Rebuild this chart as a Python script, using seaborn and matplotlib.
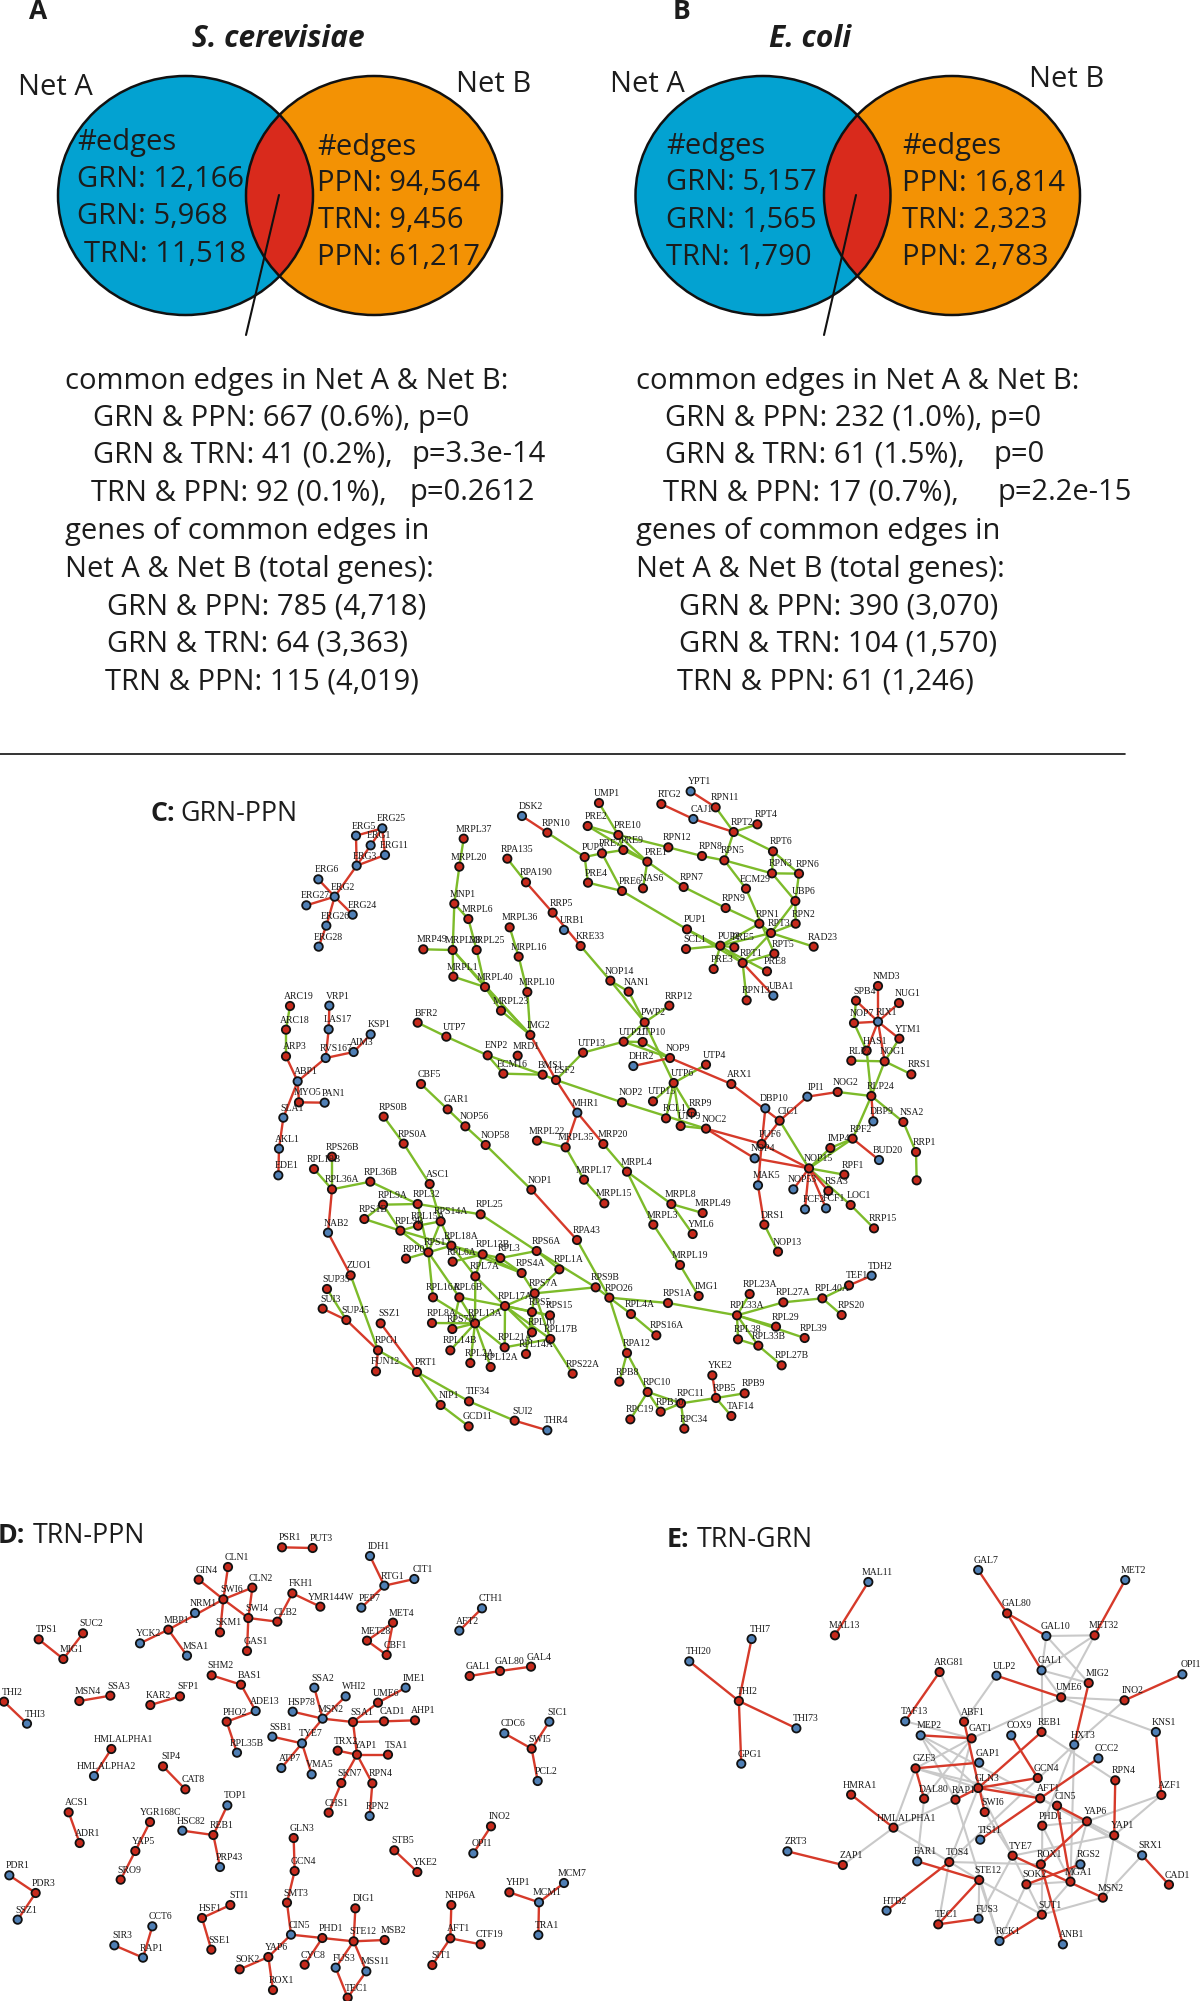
import pandas as pd
import matplotlib
matplotlib.use('Agg')
import matplotlib.pyplot as plt
from matplotlib.patches import Ellipse
import seaborn as sns

# --- venn text -------------------------------------------------------------
a_left = ['#edges', 'GRN: 12,166', 'GRN: 5,968', 'TRN: 11,518']
a_right = ['#edges', 'PPN: 94,564', 'TRN: 9,456', 'PPN: 61,217']
b_left = ['#edges', 'GRN: 5,157', 'GRN: 1,565', 'TRN: 1,790']
b_right = ['#edges', 'PPN: 16,814', 'TRN: 2,323', 'PPN: 2,783']

a_lines = ['common edges in Net A & Net B:', 'GRN & PPN: 667 (0.6%), p=0', 'GRN & TRN: 41 (0.2%),',
           'TRN & PPN: 92 (0.1%),', 'genes of common edges in', 'Net A & Net B (total genes):',
           'GRN & PPN: 785 (4,718)', 'GRN & TRN: 64 (3,363)', 'TRN & PPN: 115 (4,019)']
b_lines = ['common edges in Net A & Net B:', 'GRN & PPN: 232 (1.0%), p=0', 'GRN & TRN: 61 (1.5%),',
           'TRN & PPN: 17 (0.7%),', 'genes of common edges in', 'Net A & Net B (total genes):',
           'GRN & PPN: 390 (3,070)', 'GRN & TRN: 104 (1,570)', 'TRN & PPN: 61 (1,246)']
a_pvals = ['p=3.3e-14', 'p=0.2612']
b_pvals = ['p=0', 'p=2.2e-15']

# --- node tables (name, x, y in 3x crop pixels) --------
c_nodes_1 = [('ERG25', 367, 205), ('ERG5', 288, 227), ('ERG1', 332, 256), ('ERG11', 375, 285), ('ERG3', 290, 317),
             ('ERG6', 175, 358), ('ERG2', 224, 410), ('ERG27', 139, 436), ('ERG24', 278, 464), ('ERG26', 199, 497),
             ('ERG28', 176, 560), ('MRPL37', 611, 236), ('MRPL20', 598, 320), ('MNP1', 583, 431), ('MRPL6', 625, 477),
             ('MRP49', 490, 568), ('MRPL38', 578, 570), ('MRPL25', 650, 570), ('MRPL1', 580, 650), ('MRPL40', 675, 681),
             ('MRPL36', 749, 502), ('MRPL16', 776, 590), ('MRPL10', 802, 696), ('MRPL23', 723, 752), ('IMG2', 811, 825),
             ('DSK2', 786, 168), ('RPN10', 862, 218), ('RPA135', 742, 296), ('RPA190', 798, 367), ('RRP5', 878, 458),
             ('URB1', 912, 510), ('KRE33', 962, 558), ('UMP1', 1017, 129), ('PRE2', 983, 198), ('PRE10', 1075, 225),
             ('PUP3', 974, 291), ('PRE7', 1026, 280), ('PRE9', 1090, 270), ('PRE4', 984, 368), ('PRE6', 1086, 393),
             ('NAS6', 1149, 385), ('ARC19', 90, 738), ('VRP1', 208, 737), ('ARC18', 78, 809), ('LAS17', 206, 808),
             ('KSP1', 332, 823), ('ARP3', 78, 889), ('RVS167', 197, 894), ('AIM3', 281, 876), ('ABP1', 113, 964),
             ('MYO5', 117, 1027), ('PAN1', 194, 1028), ('SLA1', 70, 1073), ('RPS0B', 371, 1070), ('BFR2', 473, 788),
             ('UTP7', 559, 830), ('ENP2', 683, 886), ('MRD1', 773, 887), ('ECM16', 730, 941), ('BMS1', 848, 944),
             ('ESF2', 888, 960), ('UTP13', 969, 878), ('UTP21', 1091, 845), ('DHR2', 1120, 918), ('NOP14', 1051, 662),
             ('NAN1', 1106, 695), ('MHR1', 952, 1058), ('NOP2', 1086, 1027), ('CBF5', 483, 972), ('GAR1', 563, 1048),
             ('NOP56', 616, 1099)]
c_nodes_2 = [('YPT1', 152, 94), ('RTG2', 64, 132), ('RPN11', 227, 142), ('CAJ1', 160, 177), ('RPT2', 281, 216),
             ('RPT4', 352, 193), ('RPT6', 399, 274), ('RPN5', 253, 301), ('RPN12', 85, 262), ('RPN8', 186, 288),
             ('PRE1', 22, 305), ('RPN3', 396, 340), ('RPN6', 477, 341), ('ECM29', 318, 386), ('UBP6', 466, 423),
             ('RPN7', 131, 381), ('RPN9', 257, 444), ('RPN1', 358, 491), ('RPN2', 467, 491), ('RPT3', 393, 519),
             ('RAD23', 521, 560), ('PUP1', 141, 508), ('SCL1', 138, 567), ('PUP2', 241, 557), ('PRE5', 283, 562),
             ('RPT5', 403, 581), ('RPT1', 308, 609), ('PRE3', 221, 627), ('PRE8', 381, 634), ('RPN13', 320, 721),
             ('UBA1', 400, 707), ('NMD3', 714, 678), ('SPB4', 648, 722), ('NUG1', 777, 729), ('NOP7', 642, 789),
             ('RIX1', 714, 785), ('YTM1', 778, 836), ('HAS1', 680, 872), ('RLP7', 634, 902), ('NOG1', 734, 904),
             ('RRS1', 814, 943), ('NOG2', 593, 996), ('IPI1', 502, 1010), ('RLP24', 694, 1008), ('DBP10', 376, 1045),
             ('CIC1', 419, 1082), ('DBP9', 700, 1084), ('NSA2', 790, 1086), ('RPF2', 638, 1136), ('IMP4', 571, 1164),
             ('RRP1', 828, 1176), ('PUF6', 365, 1152), ('NOC2', 198, 1106), ('ARX1', 274, 972), ('NOP9', 90, 894),
             ('UTP4', 198, 914), ('UTP6', 101, 969), ('UTP15', 39, 1024), ('RCL1', 78, 1075), ('UTP9', 122, 1098),
             ('RRP9', 155, 1058), ('RRP12', 88, 737), ('PWP2', 14, 787), ('UTP10', 8, 846), ('BUD20', 717, 1200)]
c_nodes_3 = [('AKL1', 57, 86), ('EDE1', 55, 166), ('RPS26B', 216, 110), ('RPL19B', 162, 147), ('RPL36A', 216, 208),
             ('RPL36B', 331, 185), ('ASC1', 509, 192), ('RPS0A', 431, 71), ('NOP58', 677, 75), ('NOP1', 814, 209),
             ('RPA43', 951, 360), ('MRPL22', 831, 62), ('MRPL35', 917, 82), ('MRP20', 1030, 72), ('MRPL17', 972, 179),
             ('MRPL15', 1033, 250), ('MRPL4', 1101, 155), ('MRPL8', 1234, 252), ('MRPL49', 1328, 279), ('YML6', 1298, 342),
             ('MRPL3', 1180, 314), ('MRPL19', 1260, 435), ('IMG1', 1316, 528), ('NAB2', 204, 338), ('RPL9A', 369, 254),
             ('RPL32', 473, 252), ('RPS1B', 313, 297), ('RPL25', 662, 283), ('RPL15A', 474, 317), ('RPL9B', 421, 332),
             ('RPS14A', 542, 304), ('RPL18A', 574, 377), ('RPS17', 505, 397), ('RPP0', 438, 416), ('RPL6A', 578, 425),
             ('RPL13B', 668, 403), ('RPL3', 721, 414), ('RPS6A', 830, 393), ('RPL1A', 898, 448), ('RPS4A', 785, 459),
             ('RPL7A', 646, 469), ('ZUO1', 272, 466), ('SUP35', 201, 507), ('SUI3', 188, 566), ('SUP45', 259, 600),
             ('SSZ1', 362, 610), ('RPL16A', 519, 532), ('RPL6B', 598, 532), ('RPS7A', 824, 520), ('RPS9B', 1007, 502),
             ('RPO26', 1048, 533), ('RPS1A', 1224, 549), ('RPL17A', 735, 558), ('RPS5', 816, 576), ('RPS15', 870, 586),
             ('RPL4A', 1113, 582), ('RPS16A', 1189, 646), ('RPL8A', 516, 609), ('RPS7B', 577, 627), ('RPL13A', 645, 610),
             ('RPL10', 816, 637), ('RPL17B', 871, 657), ('RPL21A', 734, 682), ('RPL14A', 798, 702), ('RPL14B', 571, 691),
             ('RPL2A', 631, 729), ('RPL12A', 692, 741), ('RPS22A', 938, 761), ('RPA12', 1101, 699), ('RPG1', 354, 691),
             ('FUN12', 348, 754), ('PRT1', 471, 756), ('RPB8', 1078, 785), ('RPC19', 1111, 898), ('NIP1', 542, 855),
             ('TIF34', 627, 844), ('GCD11', 626, 919), ('SUI2', 764, 902), ('THR4', 862, 931)]
c_nodes_4 = [('NOP4', 344, 55), ('NOP15', 507, 85), ('MAK5', 354, 136), ('NOP53', 460, 148), ('RPF1', 613, 104),
             ('RSA3', 565, 153), ('FCF2', 495, 208), ('FCF1', 558, 205), ('LOC1', 632, 195), ('RRP15', 702, 265),
             ('DRS1', 373, 254), ('NOP13', 414, 335), ('TDH2', 695, 407), ('TEF1', 627, 436), ('RPL40A', 547, 475),
             ('RPL27A', 430, 487), ('RPL23A', 329, 462), ('RPL33A', 291, 526), ('RPS20', 605, 525), ('RPL29', 408, 560),
             ('RPL39', 494, 594), ('RPL38', 294, 598), ('RPL33B', 355, 617), ('RPL27B', 425, 676), ('YKE2', 217, 706),
             ('RPB5', 228, 774), ('RPB9', 314, 760), ('TAF14', 274, 828), ('RPC11', 123, 790), ('RPB10', 62, 815),
             ('RPC34', 133, 866), ('RPC10', 23, 756)]
c_nolabel = [('RRP1B', 830, 121)]

c_blue = ['ERG25', 'ERG5', 'ERG1', 'ERG11', 'ERG3', 'ERG6', 'ERG2', 'ERG27', 'ERG24', 'ERG26', 'ERG28', 'DSK2', 'URB1',
          'VRP1', 'LAS17', 'KSP1', 'RVS167', 'AIM3', 'ABP1', 'PAN1', 'SLA1', 'AKL1', 'EDE1', 'NAB2', 'DHR2', 'MHR1',
          'YPT1', 'CAJ1', 'UBA1', 'RIX1', 'IPI1', 'DBP10', 'DBP9', 'BUD20', 'NOP4', 'MAK5', 'NOP53', 'FCF2', 'FCF1',
          'TDH2', 'THR4']

c_red = [('ERG5', 'ERG25'), ('ERG25', 'ERG11'), ('ERG5', 'ERG3'), ('ERG1', 'ERG25'), ('ERG1', 'ERG3'), ('ERG3', 'ERG11'),
         ('ERG3', 'ERG2'), ('ERG6', 'ERG2'), ('ERG2', 'ERG27'), ('ERG2', 'ERG24'), ('ERG2', 'ERG26'), ('ERG26', 'ERG28'),
         ('DSK2', 'RPN10'), ('RPA190', 'RRP5'), ('RRP5', 'KRE33'), ('YPT1', 'RPN11'), ('RTG2', 'CAJ1'), ('CAJ1', 'RPT2'),
         ('RPT1', 'UBA1'), ('NMD3', 'RIX1'), ('SPB4', 'RIX1'), ('NUG1', 'RIX1'), ('NOP7', 'RIX1'), ('RIX1', 'YTM1'),
         ('RIX1', 'HAS1'), ('RIX1', 'NOG1'), ('NOP9', 'ARX1'), ('ARX1', 'CIC1'), ('DBP10', 'PUF6'), ('CIC1', 'PUF6'),
         ('CIC1', 'IPI1'), ('IPI1', 'NOG2'), ('NOC2', 'PUF6'), ('RLP24', 'DBP9'), ('RPF2', 'BUD20'), ('NOC2', 'NOP4'),
         ('PUF6', 'NOP15'), ('NOP4', 'NOP15'), ('PUF6', 'MAK5'), ('MAK5', 'DRS1'), ('NOP15', 'NOP53'), ('NOP15', 'FCF2'),
         ('NOP15', 'FCF1'), ('NOP15', 'RSA3'), ('TDH2', 'TEF1'), ('YKE2', 'RPB5'), ('ARP3', 'ABP1'), ('VRP1', 'LAS17'),
         ('LAS17', 'RVS167'), ('RVS167', 'AIM3'), ('AIM3', 'KSP1'), ('RVS167', 'ABP1'), ('ABP1', 'MYO5'), ('ABP1', 'SLA1'),
         ('MYO5', 'PAN1'), ('SLA1', 'AKL1'), ('AKL1', 'EDE1'), ('RPL36A', 'NAB2'), ('NAB2', 'ZUO1'), ('SUI3', 'SUP45'),
         ('SUP45', 'RPG1'), ('RPG1', 'FUN12'), ('SSZ1', 'PRT1'), ('SUI2', 'THR4'), ('NOP1', 'RPA43'), ('MHR1', 'MRPL35'),
         ('MHR1', 'MRP20'), ('ESF2', 'MHR1'), ('IMG2', 'ESF2'), ('DHR2', 'NOP9')]
c_green = [('MRPL37', 'MRPL20'), ('MRPL20', 'MNP1'), ('MNP1', 'MRPL38'), ('MNP1', 'MRPL6'), ('MRPL6', 'MRPL25'),
           ('MRP49', 'MRPL38'), ('MRPL38', 'MRPL1'), ('MRPL38', 'MRPL40'), ('MRPL1', 'MRPL40'), ('MRPL25', 'MRPL40'),
           ('MRPL40', 'IMG2'), ('MRPL40', 'MRPL23'), ('MRPL23', 'IMG2'), ('MRPL36', 'MRPL16'), ('MRPL16', 'MRPL10'),
           ('MRPL10', 'IMG2'), ('RPN10', 'PUP3'), ('RPA135', 'RPA190'), ('KRE33', 'NOP14'), ('UMP1', 'PRE10'),
           ('PRE2', 'PRE10'), ('PRE10', 'RPN12'), ('PRE10', 'PRE9'), ('PRE10', 'PRE1'), ('PRE2', 'PRE1'), ('PUP3', 'PRE7'),
           ('PRE7', 'PRE9'), ('PRE9', 'PRE1'), ('PUP3', 'PRE4'), ('PRE7', 'PRE6'), ('PRE4', 'PRE6'), ('PRE1', 'NAS6'),
           ('PRE1', 'RPN7'), ('PRE6', 'PUP1'), ('RPN12', 'RPN8'), ('RPN8', 'RPN5'), ('RPN7', 'RPN9'), ('RPN11', 'RPT2'),
           ('RPT2', 'RPT4'), ('RPT2', 'RPT6'), ('RPT2', 'RPN5'), ('RPT6', 'RPN3'), ('RPT6', 'RPN6'), ('RPN5', 'RPN3'),
           ('RPN3', 'RPN6'), ('RPN5', 'ECM29'), ('ECM29', 'RPT5'), ('RPN3', 'UBP6'), ('RPN6', 'UBP6'), ('UBP6', 'RPN2'),
           ('UBP6', 'RPT3'), ('RPN9', 'RPN1'), ('RPN1', 'RPT3'), ('RPT3', 'RAD23'), ('RPT3', 'RPN2'), ('RPT3', 'RPT1'),
           ('RPT3', 'PUP2'), ('RPN1', 'PUP2'), ('PUP1', 'RPT1'), ('PUP1', 'PRE8'), ('SCL1', 'PUP2'), ('PUP2', 'PRE3'),
           ('PUP2', 'RPT1'), ('PUP2', 'PRE5'), ('RPT1', 'RPT5'), ('RPT1', 'RPN13'), ('SPB4', 'NOP7'), ('NOP7', 'HAS1'),
           ('HAS1', 'RLP24'), ('RLP7', 'NOG1'), ('NOG1', 'RRS1'), ('NOG1', 'RLP24'), ('YTM1', 'NOG1'), ('NOG2', 'RLP24'),
           ('RLP24', 'RPF2'), ('RLP24', 'NSA2'), ('NSA2', 'RRP1'), ('RPF2', 'IMP4'), ('RPF2', 'NOP15'), ('IMP4', 'NOP15'),
           ('CIC1', 'NOP15'), ('UTP6', 'UTP4'), ('UTP6', 'UTP15'), ('UTP6', 'RCL1'), ('UTP6', 'UTP9'), ('UTP6', 'RRP9'),
           ('NOP2', 'NOC2'), ('UTP9', 'NOC2'), ('NOP15', 'RPF1'), ('NOP15', 'LOC1'), ('LOC1', 'RRP15'), ('DRS1', 'NOP13'),
           ('RRP1', 'RRP1B'), ('TEF1', 'RPL40A'), ('RPL40A', 'RPL27A'), ('RPL40A', 'RPS20'), ('RPL27A', 'RPL33A'),
           ('RPL23A', 'RPL33A'), ('RPL33A', 'RPL29'), ('RPL33A', 'RPL39'), ('RPL33A', 'RPL38'), ('RPL33A', 'RPL33B'),
           ('RPL38', 'RPL33B'), ('RPL33B', 'RPL27B'), ('RPS1A', 'RPL33A'), ('RPO26', 'RPS1A'), ('MRPL19', 'IMG1'),
           ('MRPL3', 'MRPL19'), ('MRPL4', 'MRPL3'), ('MRPL4', 'MRPL8'), ('MRPL8', 'MRPL49'), ('MRPL8', 'YML6'),
           ('RPB5', 'RPB9'), ('RPB5', 'TAF14'), ('RPB5', 'RPC11'), ('RPC11', 'RPC34'), ('RPC11', 'RPB10'), ('RPC10', 'RPB10'),
           ('RPC10', 'RPC11'), ('ARC19', 'ARC18'), ('ARC18', 'ARP3'), ('RPS26B', 'RPL36A'), ('RPL19B', 'RPL36A'),
           ('RPL36A', 'RPL36B'), ('ZUO1', 'RPG1'), ('SUP35', 'SUP45'), ('RPG1', 'PRT1'), ('PRT1', 'NIP1'), ('NIP1', 'GCD11'),
           ('PRT1', 'TIF34'), ('TIF34', 'SUI2'), ('RPS0B', 'RPS0A'), ('RPS0A', 'ASC1'), ('ASC1', 'RPS14A'), ('CBF5', 'GAR1'),
           ('GAR1', 'NOP56'), ('NOP56', 'NOP58'), ('NOP58', 'NOP1'), ('RPA43', 'RPO26'), ('RPO26', 'RPA12'), ('RPA12', 'RPB8'),
           ('RPA12', 'RPC10'), ('RPC10', 'RPC19'), ('RPL36B', 'RPL32'), ('RPL9A', 'RPL32'), ('RPS1B', 'RPL9A'),
           ('RPS1B', 'RPL9B'), ('RPL32', 'RPL25'), ('RPL32', 'RPS17'), ('RPL9B', 'RPL15A'), ('RPL25', 'RPS6A'),
           ('RPL9B', 'RPS17'), ('RPL9B', 'RPL18A'), ('RPS14A', 'RPL18A'), ('RPS14A', 'RPS17'), ('RPS14A', 'RPL15A'),
           ('RPL9A', 'RPL9B'), ('RPS17', 'RPP0'), ('RPS17', 'RPL18A'), ('RPS17', 'RPL16A'), ('RPS17', 'RPL6B'),
           ('RPL18A', 'RPL13B'), ('RPL18A', 'RPL7A'), ('RPL6A', 'RPL13B'), ('RPL13B', 'RPL3'), ('RPL3', 'RPS6A'),
           ('RPL3', 'RPS4A'), ('RPS6A', 'RPL1A'), ('RPS6A', 'RPS9B'), ('RPL1A', 'RPS7A'), ('RPS4A', 'RPS7A'),
           ('RPL13B', 'RPS4A'), ('RPL18A', 'RPS4A'), ('RPL7A', 'RPL13B'), ('RPL7A', 'RPL13A'), ('RPL7A', 'RPL17A'),
           ('RPS7A', 'RPS9B'), ('RPS9B', 'RPO26'), ('RPO26', 'RPL4A'), ('RPL4A', 'RPS16A'), ('RPL16A', 'RPL13A'),
           ('RPL6B', 'RPL17A'), ('RPL6B', 'RPL13A'), ('RPL6B', 'RPS7B'), ('RPL8A', 'RPL13A'), ('RPS7B', 'RPL13A'),
           ('RPL14B', 'RPL13A'), ('RPL2A', 'RPL13A'), ('RPL12A', 'RPL13A'), ('RPL21A', 'RPL13A'), ('RPL17A', 'RPL13A'),
           ('RPL17A', 'RPS7A'), ('RPL17A', 'RPS5'), ('RPL17A', 'RPS15'), ('RPL17A', 'RPL10'), ('RPL17A', 'RPL17B'),
           ('RPL17A', 'RPL21A'), ('RPS7A', 'RPS5'), ('RPS5', 'RPL10'), ('RPL21A', 'RPL17B'), ('RPS7A', 'RPL17B'),
           ('RPL17B', 'RPS22A'), ('RPS15', 'RPS5'), ('RPS5', 'RPL14A'), ('MRPL22', 'MRPL35'), ('MRPL35', 'MRPL17'),
           ('MRPL17', 'MRPL15'), ('MRP20', 'MRPL4'), ('BFR2', 'UTP7'), ('UTP7', 'ENP2'), ('ENP2', 'ECM16'), ('ENP2', 'BMS1'),
           ('ECM16', 'BMS1'), ('BMS1', 'ESF2'), ('ESF2', 'UTP13'), ('UTP13', 'UTP21'), ('UTP21', 'UTP10'), ('UTP21', 'NOP9'),
           ('UTP10', 'NOP9'), ('ESF2', 'NOP2'), ('NOP14', 'NAN1'), ('NOP14', 'PWP2'), ('NAN1', 'PWP2'), ('RRP12', 'PWP2'),
           ('PWP2', 'UTP21'), ('PWP2', 'UTP6'), ('MRPL38', 'IMG2')]

d_nodes_1 = [('PSR1', 846, 139), ('PUT3', 938, 141), ('CLN1', 684, 198), ('GIN4', 596, 236), ('CLN2', 757, 260),
             ('SWI6', 670, 295), ('FKH1', 877, 277), ('YMR144W', 961, 317), ('NRM1', 585, 336), ('SWI4', 745, 351),
             ('CLB2', 832, 362), ('MBP1', 505, 386), ('SKM1', 660, 394), ('YCK2', 420, 427), ('MSA1', 561, 464),
             ('GAS1', 741, 450), ('TPS1', 116, 415), ('SUC2', 249, 397), ('MIG1', 190, 474), ('SHM2', 635, 523),
             ('BAS1', 723, 551), ('THI2', 12, 602), ('THI3', 81, 668), ('MSN4', 238, 600), ('SSA3', 331, 584),
             ('KAR2', 451, 612), ('SFP1', 540, 586), ('ADE13', 767, 630), ('PHO2', 680, 662), ('HSP78', 878, 632),
             ('SSA2', 943, 560), ('MSN2', 968, 653), ('SSB1', 817, 707), ('TYE7', 906, 727), ('RPL35B', 711, 755),
             ('HMLALPHA1', 334, 744), ('HMLALPHA2', 282, 825), ('SIP4', 489, 796), ('CAT8', 556, 865), ('ATP7', 844, 801),
             ('VMA5', 935, 820), ('TOP1', 682, 913), ('ACS1', 206, 934), ('YGR168C', 450, 963), ('HSC82', 547, 989),
             ('REB1', 640, 1002), ('ADR1', 239, 1026), ('GLN3', 881, 1011), ('YAP5', 406, 1050), ('GCN4', 884, 1110),
             ('PRP43', 660, 1098), ('SRO9', 362, 1136), ('PDR1', 28, 1123), ('PDR3', 107, 1176), ('SMT3', 861, 1205),
             ('STI1', 691, 1212), ('SSZ1', 53, 1256), ('HSF1', 606, 1251), ('CCT6', 457, 1276), ('CIN5', 873, 1301),
             ('SIR3', 343, 1333), ('RAP1', 429, 1370), ('SSE1', 634, 1346), ('YAP6', 805, 1368), ('PHD1', 967, 1311),
             ('SOK2', 719, 1405), ('CYC8', 914, 1391), ('ROX1', 819, 1467)]
d_nodes_2 = [('IDH1', 210, -135), ('RTG1', 253, -46), ('CIT1', 343, -66), ('PEP7', 184, 20), ('CTH1', 546, 22),
             ('AFT2', 478, 89), ('MET4', 279, 65), ('MET28', 201, 119), ('CBF1', 260, 162), ('GAL1', 509, 225),
             ('GAL80', 600, 210), ('GAL4', 693, 197), ('WHI2', 137, 286), ('UME6', 234, 305), ('IME1', 317, 260),
             ('SSA1', 159, 363), ('CAD1', 252, 361), ('AHP1', 345, 358), ('SIC1', 748, 362), ('CDC6', 613, 397),
             ('SWI5', 695, 443), ('TRX2', 113, 449), ('YAP1', 171, 461), ('TSA1', 264, 461), ('SKN7', 124, 546),
             ('RPN4', 217, 547), ('PCL2', 713, 540), ('CHS1', 86, 635), ('RPN2', 209, 645), ('INO2', 573, 676),
             ('OPI1', 520, 757), ('STB5', 283, 748), ('YKE2', 352, 813), ('MCM7', 792, 846), ('YHP1', 628, 874),
             ('MCM1', 717, 904), ('NHP6A', 454, 912), ('DIG1', 166, 922), ('TRA1', 715, 1002), ('STE12', 161, 1021),
             ('MSB2', 254, 1017), ('AFT1', 451, 1012), ('CTF19', 542, 1030), ('SIT1', 397, 1092), ('FUS3', 107, 1100),
             ('MSS11', 199, 1111), ('TEC1', 143, 1190)]
d_blue = ['NRM1', 'YCK2', 'MSA1', 'THI3', 'ADE13', 'HSP78', 'SSA2', 'MSN2', 'SSB1', 'TYE7', 'RPL35B', 'HMLALPHA2', 'ATP7',
          'VMA5', 'TOP1', 'HSC82', 'PRP43', 'PDR1', 'SSZ1', 'CCT6', 'CIN5', 'SIR3', 'RAP1', 'IDH1', 'RTG1', 'CIT1', 'PEP7',
          'CTH1', 'AFT2', 'WHI2', 'IME1', 'SIC1', 'CDC6', 'PCL2', 'RPN2', 'OPI1', 'MCM7', 'MCM1', 'TRA1', 'FUS3', 'MSS11']
d_red = [('PSR1', 'PUT3'), ('CLN1', 'SWI6'), ('GIN4', 'SWI6'), ('CLN2', 'SWI6'), ('SWI6', 'MBP1'), ('SWI6', 'SKM1'),
         ('SWI6', 'SWI4'), ('CLN2', 'SWI4'), ('SWI4', 'CLB2'), ('SWI4', 'GAS1'), ('CLB2', 'FKH1'), ('FKH1', 'YMR144W'),
         ('MBP1', 'YCK2'), ('MBP1', 'MSA1'), ('TPS1', 'MIG1'), ('SUC2', 'MIG1'), ('SHM2', 'BAS1'), ('BAS1', 'ADE13'),
         ('ADE13', 'PHO2'), ('PHO2', 'RPL35B'), ('THI2', 'THI3'), ('MSN4', 'SSA3'), ('KAR2', 'SFP1'), ('HSP78', 'MSN2'),
         ('SSA2', 'MSN2'), ('MSN2', 'TYE7'), ('SSB1', 'TYE7'), ('ATP7', 'TYE7'), ('TYE7', 'VMA5'),
         ('HMLALPHA1', 'HMLALPHA2'), ('SIP4', 'CAT8'), ('TOP1', 'REB1'), ('HSC82', 'REB1'), ('REB1', 'PRP43'),
         ('ACS1', 'ADR1'), ('YGR168C', 'YAP5'), ('YAP5', 'SRO9'), ('GLN3', 'GCN4'), ('GCN4', 'SMT3'), ('SMT3', 'CIN5'),
         ('PDR1', 'PDR3'), ('PDR3', 'SSZ1'), ('STI1', 'HSF1'), ('HSF1', 'SSE1'), ('CCT6', 'RAP1'), ('SIR3', 'RAP1'),
         ('CIN5', 'YAP6'), ('CIN5', 'PHD1'), ('SOK2', 'YAP6'), ('YAP6', 'ROX1'), ('CYC8', 'PHD1'), ('IDH1', 'RTG1'),
         ('RTG1', 'CIT1'), ('RTG1', 'PEP7'), ('CTH1', 'AFT2'), ('MET4', 'MET28'), ('MET4', 'CBF1'), ('MET28', 'CBF1'),
         ('GAL1', 'GAL80'), ('GAL80', 'GAL4'), ('WHI2', 'MSN2'), ('MSN2', 'SSA1'), ('SSA1', 'UME6'), ('UME6', 'IME1'),
         ('SSA1', 'CAD1'), ('CAD1', 'AHP1'), ('SSA1', 'YAP1'), ('TRX2', 'YAP1'), ('YAP1', 'TSA1'), ('YAP1', 'SKN7'),
         ('YAP1', 'RPN4'), ('SKN7', 'CHS1'), ('RPN4', 'RPN2'), ('SIC1', 'SWI5'), ('CDC6', 'SWI5'), ('SWI5', 'PCL2'),
         ('INO2', 'OPI1'), ('STB5', 'YKE2'), ('MCM7', 'MCM1'), ('YHP1', 'MCM1'), ('MCM1', 'TRA1'), ('NHP6A', 'AFT1'),
         ('AFT1', 'CTF19'), ('AFT1', 'SIT1'), ('DIG1', 'STE12'), ('PHD1', 'STE12'), ('STE12', 'MSB2'), ('STE12', 'FUS3'),
         ('STE12', 'MSS11'), ('FUS3', 'TEC1'), ('MSS11', 'TEC1')]

e_nodes = [('MAL11', 605, 243), ('MAL13', 508, 403), ('THI7', 266, 414), ('THI20', 85, 481), ('THI2', 229, 600),
           ('THI73', 396, 682), ('GPG1', 236, 788), ('GAL7', 924, 207), ('GAL80', 1008, 337), ('GAL10', 1122, 405),
           ('MET32', 1262, 403), ('MET2', 1351, 237), ('GAL1', 1108, 508), ('ARG81', 812, 513), ('ULP2', 977, 524),
           ('MIG2', 1245, 546), ('OPI1', 1517, 520), ('UME6', 1165, 589), ('INO2', 1349, 598), ('TAF13', 712, 661),
           ('ABF1', 883, 662), ('REB1', 1108, 693), ('KNS1', 1440, 693), ('MEP2', 757, 703), ('GAT1', 905, 712),
           ('COX9', 1020, 703), ('HXT3', 1203, 731), ('CCC2', 1273, 772), ('GAP1', 927, 785), ('GZF3', 742, 802),
           ('GCN4', 1097, 831), ('RPN4', 1322, 838), ('GLN3', 924, 861), ('DAL80', 767, 893), ('RAP1', 858, 896),
           ('AFT1', 1104, 892), ('AZF1', 1456, 882), ('CIN5', 1153, 914), ('SWI6', 943, 933), ('HMRA1', 555, 881),
           ('HMLALPHA1', 678, 980), ('YAP6', 1240, 961), ('PHD1', 1110, 974), ('YAP1', 1319, 1003), ('TIS11', 930, 1016),
           ('ZRT3', 370, 1051), ('ZAP1', 531, 1092), ('SRX1', 1400, 1063), ('FAR1', 747, 1081), ('TOS4', 840, 1083),
           ('TYE7', 1024, 1064), ('ROX1', 1106, 1090), ('RGS2', 1221, 1090), ('STE12', 927, 1137), ('MGA1', 1192, 1142),
           ('SOK2', 1064, 1150), ('CAD1', 1478, 1151), ('MSN2', 1286, 1190), ('HTB2', 658, 1229), ('SUT1', 1109, 1241),
           ('FUS3', 925, 1253), ('TEC1', 808, 1270), ('RCK1', 986, 1320), ('ANB1', 1170, 1330)]
e_blue = ['MAL11', 'THI7', 'THI20', 'THI73', 'GPG1', 'GAL7', 'GAL10', 'MET2', 'GAL1', 'ULP2', 'OPI1', 'TAF13', 'KNS1', 'MEP2',
          'COX9', 'HXT3', 'CCC2', 'GAP1', 'TIS11', 'ZRT3', 'SRX1', 'FAR1', 'RGS2', 'HTB2', 'FUS3', 'RCK1', 'ANB1']
e_red = [('MAL11', 'MAL13'), ('THI7', 'THI2'), ('THI20', 'THI2'), ('THI2', 'THI73'), ('THI2', 'GPG1'), ('GAL7', 'GAL80'),
         ('GAL80', 'GAL10'), ('GAL80', 'GAL1'), ('MET2', 'MET32'), ('ARG81', 'TAF13'), ('ULP2', 'UME6'), ('MIG2', 'HXT3'),
         ('OPI1', 'INO2'), ('ABF1', 'SWI6'), ('MEP2', 'GAT1'), ('REB1', 'GLN3'), ('COX9', 'GCN4'), ('GAP1', 'GZF3'),
         ('GZF3', 'DAL80'), ('GLN3', 'GCN4'), ('GLN3', 'AFT1'), ('GLN3', 'RAP1'), ('CCC2', 'AFT1'), ('AFT1', 'TIS11'),
         ('KNS1', 'AZF1'), ('RPN4', 'YAP1'), ('HMRA1', 'HMLALPHA1'), ('ZRT3', 'ZAP1'), ('CIN5', 'YAP6'), ('CIN5', 'MGA1'),
         ('YAP6', 'ROX1'), ('TYE7', 'MSN2'), ('ROX1', 'ANB1'), ('RGS2', 'SOK2'), ('FAR1', 'STE12'), ('TOS4', 'HTB2'),
         ('STE12', 'TEC1'), ('TEC1', 'FUS3'), ('SUT1', 'RCK1'), ('SRX1', 'CAD1')]
e_gray = [('GAL10', 'MET32'), ('GAL10', 'MIG2'), ('GAL10', 'GAL1'), ('MET32', 'UME6'), ('MET32', 'GAL1'), ('GAL1', 'MIG2'),
          ('GAL1', 'UME6'), ('GAL1', 'REB1'), ('UME6', 'INO2'), ('UME6', 'KNS1'), ('UME6', 'GAT1'), ('INO2', 'HXT3'),
          ('ARG81', 'ABF1'), ('ULP2', 'ABF1'), ('TAF13', 'GAT1'), ('MEP2', 'GLN3'), ('GAT1', 'GZF3'), ('GAT1', 'RAP1'),
          ('GAT1', 'DAL80'), ('MEP2', 'RAP1'), ('GZF3', 'AFT1'), ('GZF3', 'HMLALPHA1'), ('DAL80', 'FAR1'),
          ('RAP1', 'HMLALPHA1'), ('RAP1', 'RCK1'), ('REB1', 'RPN4'), ('HXT3', 'TOS4'), ('HXT3', 'PHD1'), ('HXT3', 'MGA1'),
          ('AZF1', 'YAP6'), ('AZF1', 'YAP1'), ('GLN3', 'TOS4'), ('GLN3', 'TYE7'), ('SWI6', 'TYE7'), ('AFT1', 'YAP1'),
          ('AFT1', 'SRX1'), ('HMLALPHA1', 'ZAP1'), ('HMLALPHA1', 'STE12'), ('TOS4', 'ROX1'), ('TOS4', 'TEC1'),
          ('STE12', 'FUS3'), ('STE12', 'SUT1'), ('STE12', 'RCK1'), ('YAP1', 'MSN2'), ('SRX1', 'MSN2'), ('SUT1', 'MSN2'),
          ('YAP1', 'TYE7'), ('PHD1', 'YAP6'), ('PHD1', 'MGA1'), ('PHD1', 'SUT1'), ('YAP6', 'MGA1'), ('SOK2', 'MGA1'),
          ('SOK2', 'RCK1'), ('MGA1', 'SUT1'), ('TYE7', 'SUT1'), ('CIN5', 'SRX1'), ('GZF3', 'GLN3'), ('FUS3', 'TYE7'),
          ('MEP2', 'AFT1')]


def place(rows, ox, oy, sx=3.0, sy=3.0):
    return {n: (ox + x / sx, oy + y / sy) for n, x, y in rows}


def draw_edges(pos, edges, color, lw, zorder):
    rows = []
    for i, (a, b) in enumerate(edges):
        rows.append({'edge': i, 'x': pos[a][0], 'y': pos[a][1]})
        rows.append({'edge': i, 'x': pos[b][0], 'y': pos[b][1]})
    sns.lineplot(data=pd.DataFrame(rows), x='x', y='y', units='edge', estimator=None, sort=False,
                 color=color, lw=lw, ax=ax, legend=False, zorder=zorder)


def draw_nodes(pos, blue, hidden=()):
    df = pd.DataFrame([{'name': n, 'x': p[0], 'y': p[1], 'kind': 'b' if n in blue else 'r'} for n, p in pos.items()])
    sns.scatterplot(data=df, x='x', y='y', hue='kind', palette={'b': NODE_BLUE, 'r': NODE_RED}, s=36,
                    edgecolor='#111111', linewidth=1.3, ax=ax, legend=False, zorder=4)
    for _, r in df.iterrows():
        if r['name'] in hidden:
            continue
        ax.text(r['x'] + 5 + 0.83 * len(r['name']), r['y'] - 9.5, r['name'], fontsize=7, ha='center', va='center',
                family='Liberation Serif', color='#1a1a1a', zorder=5)


NODE_BLUE = '#4f7fb5'
NODE_RED = '#c72a1c'
EDGE_RED = '#d63a2a'
EDGE_GREEN = '#7dbb2a'
EDGE_GRAY = '#c9c9c9'
SANS = 'Open Sans'
INK = '#1c1c1c'

sns.set_theme(style='white')
fig = plt.figure(figsize=(12, 20.01), dpi=100)
ax = fig.add_axes([0, 0, 1, 1])

# --- venn parts -------------------------------------------------------------
for cx_a, cx_b in [(185.5, 374), (763, 952)]:
    e_a = Ellipse((cx_a, 195.5), 255, 239, fc='#03a2d1', ec='none', zorder=1)
    e_b = Ellipse((cx_b, 195.5), 256, 239, fc='#f39204', ec='none', zorder=1.1)
    ax.add_patch(e_a)
    ax.add_patch(e_b)
    lens = Ellipse((cx_a, 195.5), 255, 239, fc='#d92a1c', ec='none', zorder=1.2)
    ax.add_patch(lens)
    lens.set_clip_path(e_b)
    for cx, w in [(cx_a, 255), (cx_b, 256)]:
        ax.add_patch(Ellipse((cx, 195.5), w, 239, fc='none', ec='#111111', lw=1.8, zorder=1.3))
ax.plot([279, 246], [195, 335], color='#111111', lw=1.5, zorder=2)
ax.plot([856, 824], [195, 335], color='#111111', lw=1.5, zorder=2)


def t(x, y, s, size=21, **kw):
    # y is the middle of the capitals, so the baseline sits a bit below it
    ax.text(x, y + 0.48 * size, s, fontsize=size, family=SANS, va='baseline', color=kw.pop('color', INK), zorder=3, **kw)


t(29, 10, 'A', size=19, fontweight='bold')
t(673, 10, 'B', size=19, fontweight='bold')
t(278, 37, 'S. cerevisiae', size=21.5, fontweight='bold', fontstyle='italic', ha='center')
t(810, 37, 'E. coli', size=21.5, fontweight='bold', fontstyle='italic', ha='center')
t(18, 85, 'Net A')
t(456, 82, 'Net B')
t(610, 82, 'Net A')
t(1029, 77, 'Net B')

for s, x, y in zip(a_left, [77, 77, 77, 84], [140, 177, 213.5, 251.6]):
    t(x, y, s)
for s, x, y in zip(a_right, [317, 317, 318, 317], [144.6, 181, 218, 255]):
    t(x, y, s)
for s, y in zip(b_left, [144, 180, 218, 255]):
    t(666, y, s)
for s, y in zip(b_right, [144, 181, 218, 255]):
    t(902, y, s)

line_y = [379, 415.5, 452, 490, 529, 567, 604, 641, 679.5]
for s, x, y in zip(a_lines, [65, 93, 93, 91, 65, 65, 107, 107, 105], line_y):
    t(x, y, s)
for s, x, y in zip(b_lines, [636.5, 665, 665, 663, 636.5, 636.5, 679, 679, 677], line_y):
    t(x, y, s)
t(412, 452, a_pvals[0])
t(409, 490, a_pvals[1])
t(994, 452, b_pvals[0])
t(997, 490, b_pvals[1])

ax.plot([0, 1125], [754, 754], color='#111111', lw=1.2, zorder=2)

# --- panel titles -----------------------------------------------------------
t(150, 812, 'C:', size=19.3, fontweight='bold')
t(180, 812, 'GRN-PPN', size=19.3)
t(-2, 1534, 'D:', size=19.3, fontweight='bold')
t(33, 1534, 'TRN-PPN', size=19.3)
t(667, 1538, 'E:', size=19.3, fontweight='bold')
t(697, 1538, 'TRN-GRN', size=19.3)

# --- networks ---------------------------------------------------------------
c_pos = {}
c_pos.update(place(c_nodes_1, 260, 760))
c_pos.update(place(c_nodes_2, 640, 760))
c_pos.update(place(c_nodes_3, 260, 1120))
c_pos.update(place(c_nodes_4, 640, 1140))
c_pos.update(place(c_nolabel, 640, 1140))
draw_edges(c_pos, c_green, EDGE_GREEN, 1.7, 2.5)
draw_edges(c_pos, c_red, EDGE_RED, 1.7, 2.6)
draw_nodes(c_pos, c_blue, hidden=('RRP1B',))

d_pos = {}
d_pos.update(place(d_nodes_1, 0, 1501))
d_pos.update(place(d_nodes_2, 300, 1601))
draw_edges(d_pos, d_red, EDGE_RED, 1.7, 2.6)
draw_nodes(d_pos, d_blue)

e_pos = place(e_nodes, 660, 1501, sx=2.904)
draw_edges(e_pos, e_gray, EDGE_GRAY, 1.5, 2.4)
draw_edges(e_pos, e_red, EDGE_RED, 1.7, 2.6)
draw_nodes(e_pos, e_blue)

ax.set_xlim(0, 1200)
ax.set_ylim(2001, 0)
ax.set_axis_off()

fig.savefig('out.png', dpi=100)
